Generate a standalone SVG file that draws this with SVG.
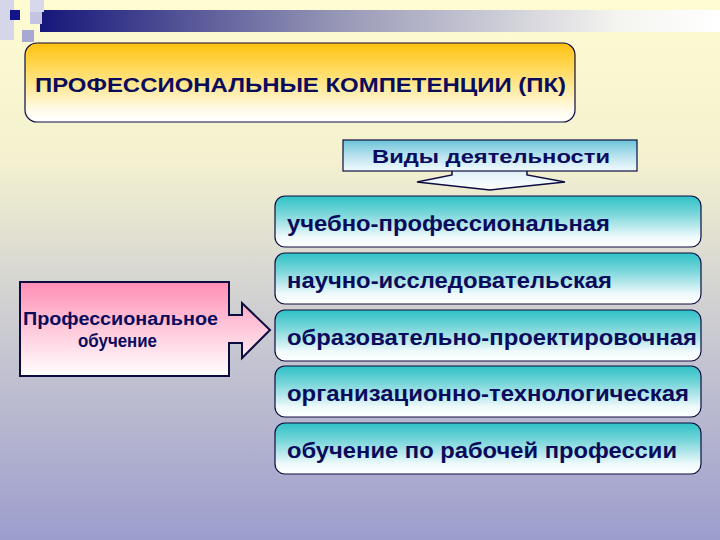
<svg xmlns="http://www.w3.org/2000/svg" width="720" height="540" viewBox="0 0 720 540">
<defs>
<linearGradient id="bg" x1="0" y1="0" x2="0" y2="1">
<stop offset="0" stop-color="#fffcd2"/>
<stop offset="0.3" stop-color="#f3f1cf"/>
<stop offset="0.55" stop-color="#d2d2d2"/>
<stop offset="1" stop-color="#9c9dcd"/>
</linearGradient>
<linearGradient id="bar" x1="0" y1="0" x2="1" y2="0">
<stop offset="0" stop-color="#16167a"/>
<stop offset="0.45" stop-color="#9a9ab8"/>
<stop offset="0.85" stop-color="#f4f4f0"/>
<stop offset="1" stop-color="#ffffff"/>
</linearGradient>
<linearGradient id="gold" x1="0" y1="0" x2="0" y2="1">
<stop offset="0" stop-color="#ffc20e"/>
<stop offset="0.45" stop-color="#ffe27a"/>
<stop offset="0.85" stop-color="#fffbea"/>
<stop offset="1" stop-color="#ffffff"/>
</linearGradient>
<linearGradient id="blue" x1="0" y1="0" x2="0" y2="1">
<stop offset="0" stop-color="#6cc3d8"/>
<stop offset="0.5" stop-color="#b8e2ee"/>
<stop offset="1" stop-color="#f2fbff"/>
</linearGradient>
<linearGradient id="teal" x1="0" y1="0" x2="0" y2="1">
<stop offset="0" stop-color="#2ec2c6"/>
<stop offset="0.35" stop-color="#7ad6da"/>
<stop offset="0.8" stop-color="#eef9fb"/>
<stop offset="1" stop-color="#ffffff"/>
</linearGradient>
<linearGradient id="pink" x1="0" y1="0" x2="0" y2="1">
<stop offset="0" stop-color="#ff8fb5"/>
<stop offset="0.45" stop-color="#ffc3d7"/>
<stop offset="1" stop-color="#ffffff"/>
</linearGradient>
<linearGradient id="down" x1="0" y1="0" x2="0" y2="1">
<stop offset="0" stop-color="#d8eef6"/>
<stop offset="1" stop-color="#ffffff"/>
</linearGradient>
</defs>
<style>
text{font-family:"Liberation Sans",Arial,sans-serif;font-weight:bold;fill:#0b0b5c}
.t{font-size:22px}
.box{stroke:#0c0c40;stroke-width:1.2}
</style>
<rect width="720" height="540" fill="url(#bg)"/>
<g id="decor">
<rect x="40" y="10" width="680" height="22" fill="url(#bar)"/>
<rect x="0" y="0" width="14" height="40" fill="#d6d6ea"/>
<rect x="30" y="0" width="14" height="12" fill="#d8d8ec"/>
<rect x="30" y="12" width="12" height="12" fill="#c4c4e2"/>
<rect x="22" y="30" width="12" height="12" fill="#a8a8d4"/>
<rect x="10" y="10" width="10" height="10" fill="#14148a"/>
</g>
<g id="title">
<rect class="box" x="25" y="43" width="550" height="79" rx="12" fill="url(#gold)"/>
<text x="35" y="92" font-size="20.5" textLength="531" lengthAdjust="spacingAndGlyphs">ПРОФЕССИОНАЛЬНЫЕ КОМПЕТЕНЦИИ (ПК)</text>
</g>
<g id="connectors">
<path d="M452 168 L452 175 L417 182 L490 190 L565 182 L527 175 L527 168 Z" fill="url(#down)" stroke="#0c0c40" stroke-width="1.5" stroke-linejoin="miter"/>
</g>
<g id="vidy">
<rect class="box" x="343" y="140" width="294" height="31" fill="url(#blue)" stroke-width="1.5"/>
<text x="372" y="163" font-size="19" textLength="238" lengthAdjust="spacingAndGlyphs">Виды деятельности</text>
</g>
<g id="a1">
<rect class="box" x="275" y="196" width="426" height="51" rx="10" fill="url(#teal)"/>
<text class="t" x="287" y="231" textLength="323" lengthAdjust="spacingAndGlyphs">учебно-профессиональная</text>
</g>
<g id="a2">
<rect class="box" x="275" y="253" width="426" height="51" rx="10" fill="url(#teal)"/>
<text class="t" x="287" y="288" textLength="325" lengthAdjust="spacingAndGlyphs">научно-исследовательская</text>
</g>
<g id="a3">
<rect class="box" x="275" y="310" width="426" height="51" rx="10" fill="url(#teal)"/>
<text class="t" x="287" y="345" textLength="410" lengthAdjust="spacingAndGlyphs">образовательно-проектировочная</text>
</g>
<g id="a4">
<rect class="box" x="275" y="366" width="426" height="51" rx="10" fill="url(#teal)"/>
<text class="t" x="287" y="401" textLength="402" lengthAdjust="spacingAndGlyphs">организационно-технологическая</text>
</g>
<g id="a5">
<rect class="box" x="275" y="423" width="426" height="51" rx="10" fill="url(#teal)"/>
<text class="t" x="287" y="458" textLength="390" lengthAdjust="spacingAndGlyphs">обучение по рабочей профессии</text>
</g>
<g id="prof">
<path d="M20 282 L229 282 L229 315 L242 315 L242 303 L270 330 L242 358 L242 343 L229 343 L229 376 L20 376 Z" fill="url(#pink)" stroke="#0c0c40" stroke-width="2"/>
<text x="23" y="325" font-size="17.5" textLength="195" lengthAdjust="spacingAndGlyphs">Профессиональное</text>
<text x="78" y="347" font-size="17.5" textLength="79" lengthAdjust="spacingAndGlyphs">обучение</text>
</g>
</svg>
